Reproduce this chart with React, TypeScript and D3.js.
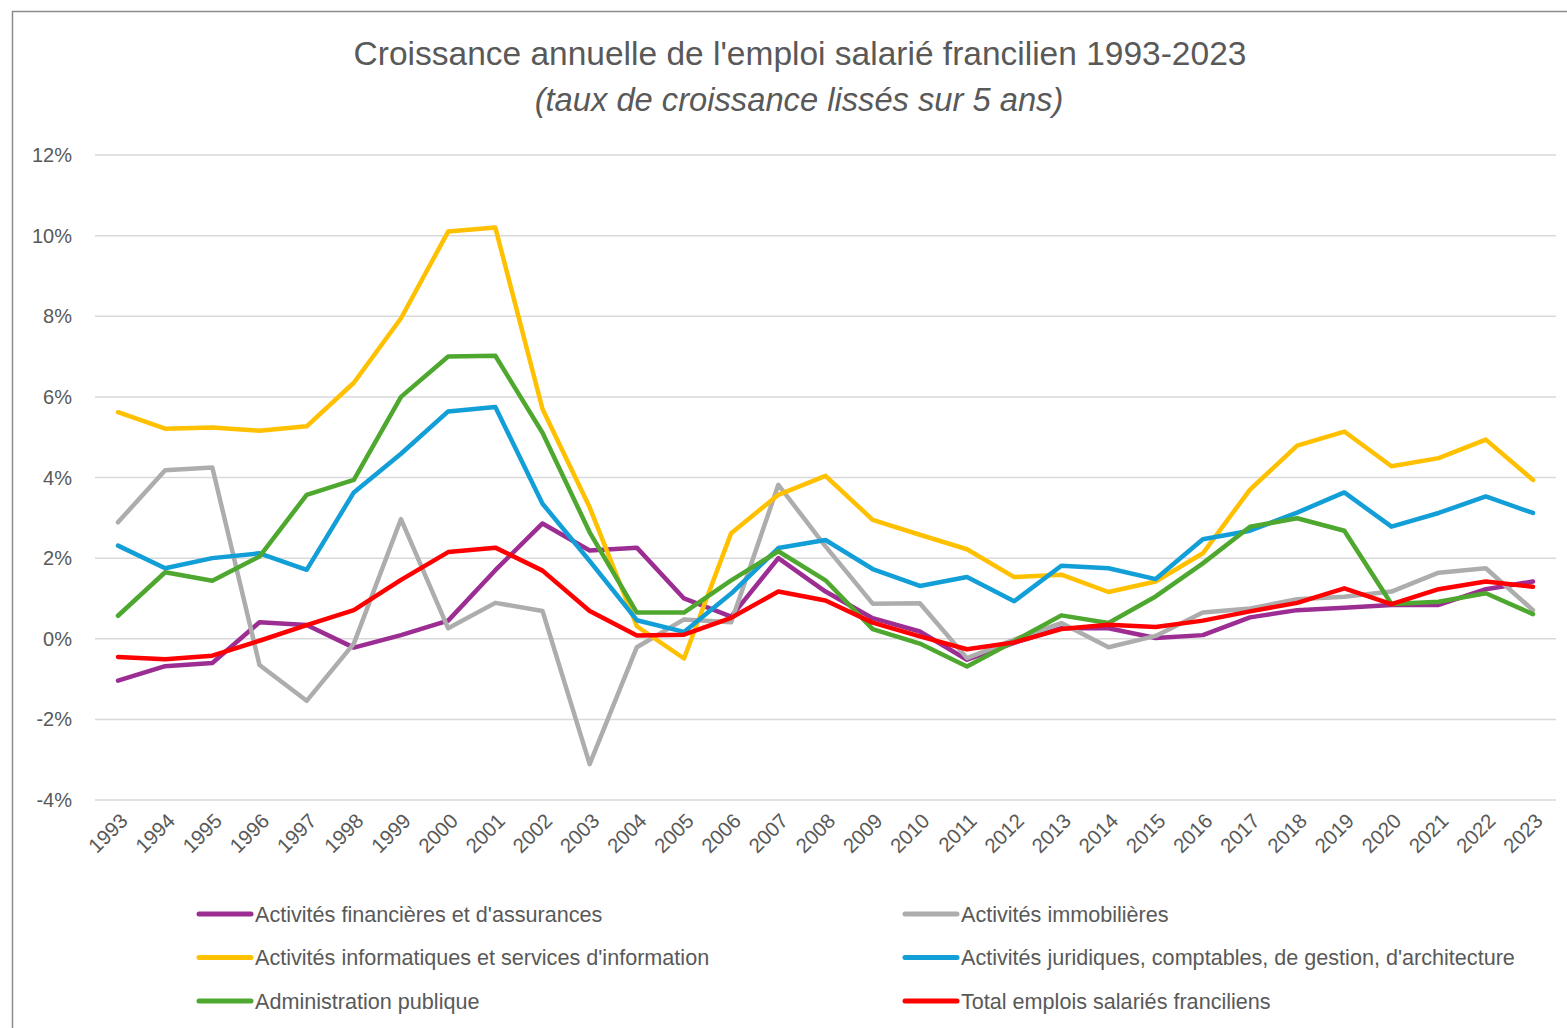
import React, { useRef, useEffect } from 'react'
import * as d3 from 'd3'

// years 1993..2023
const years = d3.range(1993, 2024).map(String)

const financieres = [-1.04, -0.68, -0.6, 0.41, 0.34, -0.22, 0.09, 0.45, 1.7, 2.86, 2.19, 2.26, 1.0, 0.55, 2.0, 1.17, 0.51, 0.18, -0.52, -0.1, 0.26, 0.26, 0.02, 0.09, 0.53, 0.71, 0.77, 0.84, 0.84, 1.23, 1.42]
const immobilieres = [2.89, 4.18, 4.25, -0.65, -1.54, -0.12, 2.97, 0.26, 0.89, 0.69, -3.11, -0.21, 0.48, 0.41, 3.82, 2.29, 0.87, 0.88, -0.48, -0.02, 0.39, -0.21, 0.07, 0.65, 0.75, 0.98, 1.04, 1.17, 1.64, 1.75, 0.71]
const informatiques = [5.62, 5.21, 5.24, 5.16, 5.27, 6.35, 7.95, 10.1, 10.2, 5.7, 3.26, 0.31, -0.49, 2.62, 3.57, 4.04, 2.95, 2.58, 2.22, 1.53, 1.59, 1.16, 1.42, 2.12, 3.7, 4.79, 5.14, 4.28, 4.48, 4.94, 3.94]
const juridiques = [2.31, 1.75, 2.0, 2.12, 1.71, 3.63, 4.59, 5.64, 5.75, 3.35, 1.93, 0.46, 0.17, 1.12, 2.25, 2.45, 1.73, 1.31, 1.53, 0.93, 1.81, 1.75, 1.48, 2.47, 2.68, 3.13, 3.63, 2.78, 3.12, 3.53, 3.12]
const administration = [0.57, 1.65, 1.44, 2.04, 3.57, 3.94, 6.0, 7.0, 7.02, 5.11, 2.64, 0.65, 0.65, 1.45, 2.17, 1.45, 0.24, -0.12, -0.69, -0.06, 0.58, 0.39, 1.05, 1.87, 2.78, 2.99, 2.68, 0.86, 0.92, 1.13, 0.61]
const total = [-0.45, -0.51, -0.42, -0.05, 0.34, 0.71, 1.46, 2.15, 2.26, 1.69, 0.69, 0.08, 0.1, 0.52, 1.17, 0.95, 0.4, 0.06, -0.26, -0.09, 0.24, 0.35, 0.29, 0.45, 0.68, 0.89, 1.25, 0.86, 1.23, 1.42, 1.29]

const yTicks = [-4, -2, 0, 2, 4, 6, 8, 10, 12]

const seriesNames = [
  'Activités financières et d\'assurances',
  'Activités immobilières',
  'Activités informatiques et services d\'information',
  'Activités juridiques, comptables, de gestion, d\'architecture',
  'Administration publique',
  'Total emplois salariés franciliens',
]
const seriesValues = [financieres, immobilieres, informatiques, juridiques, administration, total]
const seriesColors = ['#9C2D93', '#ADADAD', '#FFC000', '#129ED7', '#4EA72E', '#FF0000']

const W = 1567
const H = 1028
const FONT = '"Liberation Sans", Arial, sans-serif'
const TEXT = '#595959'

const App = () => {
  const svgRef = useRef<SVGSVGElement>(null)

  useEffect(() => {
    const svg = d3.select(svgRef.current)
    svg.selectAll('*').remove()

    const x = d3.scalePoint<string>().domain(years).range([118, 1533])
    const y = d3.scaleLinear().domain([-4, 12]).range([800, 155])

    // frame
    svg.append('rect')
      .attr('x', 12.5).attr('y', 11.5)
      .attr('width', W).attr('height', H)
      .attr('fill', 'white')
      .attr('stroke', '#8c8c8c').attr('stroke-width', 1.5)

    // title
    svg.append('text')
      .attr('x', 800).attr('y', 65)
      .attr('text-anchor', 'middle')
      .attr('font-family', FONT)
      .attr('font-size', 33.5)
      .attr('fill', TEXT)
      .text('Croissance annuelle de l\'emploi salarié francilien 1993-2023')
    svg.append('text')
      .attr('x', 799).attr('y', 111)
      .attr('text-anchor', 'middle')
      .attr('font-family', FONT)
      .attr('font-style', 'italic')
      .attr('font-size', 32.7)
      .attr('fill', TEXT)
      .text('(taux de croissance lissés sur 5 ans)')

    // gridlines
    svg.append('g').selectAll('line')
      .data(yTicks)
      .join('line')
        .attr('x1', 95).attr('x2', 1556)
        .attr('y1', d => y(d)).attr('y2', d => y(d))
        .attr('stroke', '#d9d9d9').attr('stroke-width', 1.5)

    // y labels
    svg.append('g').selectAll('text')
      .data(yTicks)
      .join('text')
        .attr('x', 72).attr('y', d => y(d))
        .attr('dy', '0.35em')
        .attr('text-anchor', 'end')
        .attr('font-family', FONT)
        .attr('font-size', 20)
        .attr('fill', TEXT)
        .text(d => d + '%')

    // x labels
    svg.append('g').selectAll('text')
      .data(years)
      .join('text')
        .attr('transform', d => `translate(${x(d)! + 6},${817}) rotate(-45)`)
        .attr('text-anchor', 'end')
        .attr('dy', '0.35em')
        .attr('font-family', FONT)
        .attr('font-size', 20.5)
        .attr('fill', TEXT)
        .text(d => d)

    // lines
    const line = d3.line<number>()
      .x((d, i) => x(years[i])!)
      .y(d => y(d))

    svg.append('g').selectAll('path')
      .data(seriesValues)
      .join('path')
        .attr('d', d => line(d))
        .attr('fill', 'none')
        .attr('stroke', (d, i) => seriesColors[i])
        .attr('stroke-width', 4.5)
        .attr('stroke-linejoin', 'round')
        .attr('stroke-linecap', 'round')

    // legend
    const legend = svg.append('g').selectAll('g')
      .data(seriesNames)
      .join('g')
        .attr('transform', (d, i) => `translate(${i % 2 === 0 ? 197 : 903},${914 + Math.floor(i / 2) * 43.5})`)
    legend.append('line')
      .attr('x1', 2).attr('x2', 54)
      .attr('stroke', (d, i) => seriesColors[i])
      .attr('stroke-width', 5)
      .attr('stroke-linecap', 'round')
    legend.append('text')
      .attr('x', 58)
      .attr('dy', '0.35em')
      .attr('font-family', FONT)
      .attr('font-size', 21.6)
      .attr('fill', TEXT)
      .text(d => d)
  }, [])

  return (
    <svg ref={svgRef} width={W} height={H}
      style={{ position: 'absolute', left: 0, top: 0, background: 'white' }} />
  )
}

export default App
